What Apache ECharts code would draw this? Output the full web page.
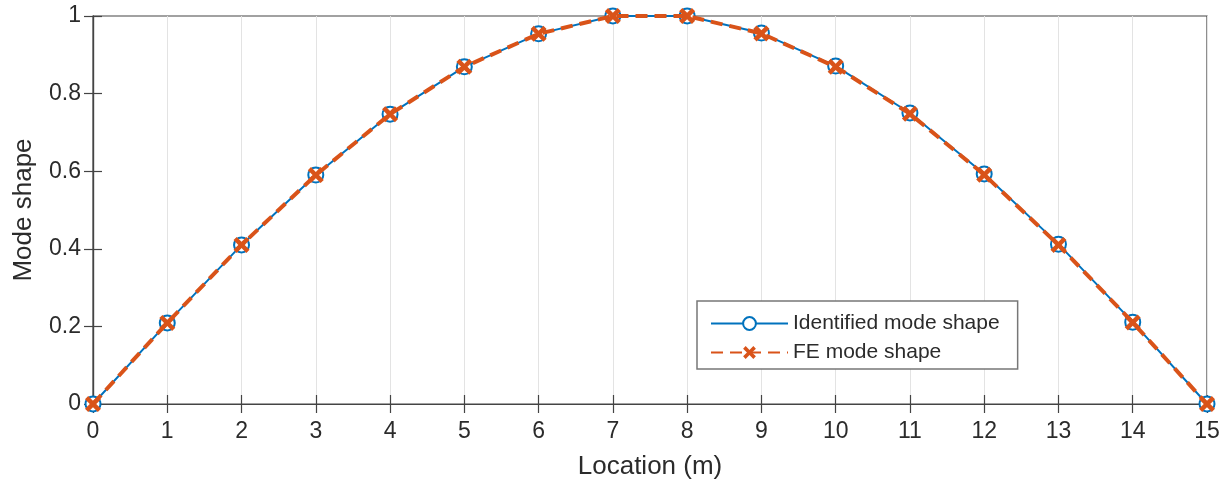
<!DOCTYPE html>
<html><head><meta charset="utf-8">
<script src="https://cdn.jsdelivr.net/npm/echarts@6/dist/echarts.min.js"></script>
<style>html,body{margin:0;padding:0;background:#fff}#c{width:1219px;height:481px}</style>
</head><body><div id="c"></div>
<script>
const locations = [0,1,2,3,4,5,6,7,8,9,10,11,12,13,14,15];
const identified = [0,0.209,0.41,0.59,0.747,0.869,0.954,1,1,0.956,0.871,0.75,0.593,0.412,0.211,0];
const fe = [0,0.209,0.41,0.59,0.747,0.869,0.954,1,1,0.955,0.869,0.748,0.591,0.41,0.21,0];
const seriesNames = ['Identified mode shape','FE mode shape'];
const xTitle = 'Location (m)';
const yTitle = 'Mode shape';

const xPath = 'path://M2,0 L5,3 L8,0 L10,2 L7,5 L10,8 L8,10 L5,7 L2,10 L0,8 L3,5 L0,2 Z';
const font = 'Liberation Sans, Arial, sans-serif';
const axisColor = '#444';
const txt = '#2b2b2b';
const chart = echarts.init(document.getElementById('c'));
const zip = a => locations.map((x,i)=>[x,a[i]]);
chart.setOption({
  animation:false,
  textStyle:{fontFamily:font},
  grid:{left:93,right:12,top:16,bottom:77,show:true,borderColor:axisColor,borderWidth:1.2,
    containLabel:false,outerBoundsMode:'none'},
  xAxis:[{type:'value',min:0,max:15,interval:1,
    name:xTitle,nameLocation:'middle',nameGap:50,nameTextStyle:{fontSize:26,color:txt,fontFamily:font},
    axisLine:{lineStyle:{color:axisColor,width:1.2}},
    axisTick:{show:true,inside:true,length:9,lineStyle:{color:axisColor,width:1.2}},
    axisLabel:{fontSize:23,color:txt,margin:16,fontFamily:font},
    splitLine:{show:true,lineStyle:{color:'#e3e3e3',width:1}}},
    {type:'value',min:0,max:15,interval:1,position:'top',
    axisLine:{lineStyle:{color:axisColor,width:1.2}},axisTick:{show:true,inside:true,length:9,lineStyle:{color:axisColor,width:1.2}},
    axisLabel:{show:false},splitLine:{show:false}}],
  yAxis:[{type:'value',min:0,max:1,interval:0.2,
    name:yTitle,nameLocation:'middle',nameGap:56,nameTextStyle:{fontSize:26,color:txt,fontFamily:font},
    axisLine:{show:true,lineStyle:{color:axisColor,width:1.2}},
    axisTick:{show:true,inside:true,length:9,lineStyle:{color:axisColor,width:1.2}},
    axisLabel:{fontSize:23,color:txt,margin:12,fontFamily:font},
    splitLine:{show:false}},
    {type:'value',min:0,max:1,interval:0.2,position:'right',
    axisLine:{show:true,lineStyle:{color:axisColor,width:1.2}},axisTick:{show:true,inside:true,length:9,lineStyle:{color:axisColor,width:1.2}},
    axisLabel:{show:false},splitLine:{show:false}}],
  legend:{left:697,top:301,orient:'vertical',
    backgroundColor:'#fff',borderColor:'#777',borderWidth:1.5,padding:[12,18,6,13],
    itemWidth:77,itemHeight:16,itemGap:8,
    textStyle:{fontSize:21,lineHeight:16,color:txt,fontFamily:font},
    data:seriesNames},
  series:[
    {name:seriesNames[0],type:'line',data:zip(identified),
     lineStyle:{color:'#0072BD',width:2},itemStyle:{color:'#0072BD',borderWidth:2.2},
     symbol:'emptyCircle',symbolSize:15,z:2},
    {name:seriesNames[1],type:'line',data:zip(fe),
     lineStyle:{color:'#D95319',width:4,type:[12,7]},itemStyle:{color:'#D95319'},
     symbol:xPath,symbolSize:16,z:3}
  ]
});
</script></body></html>
